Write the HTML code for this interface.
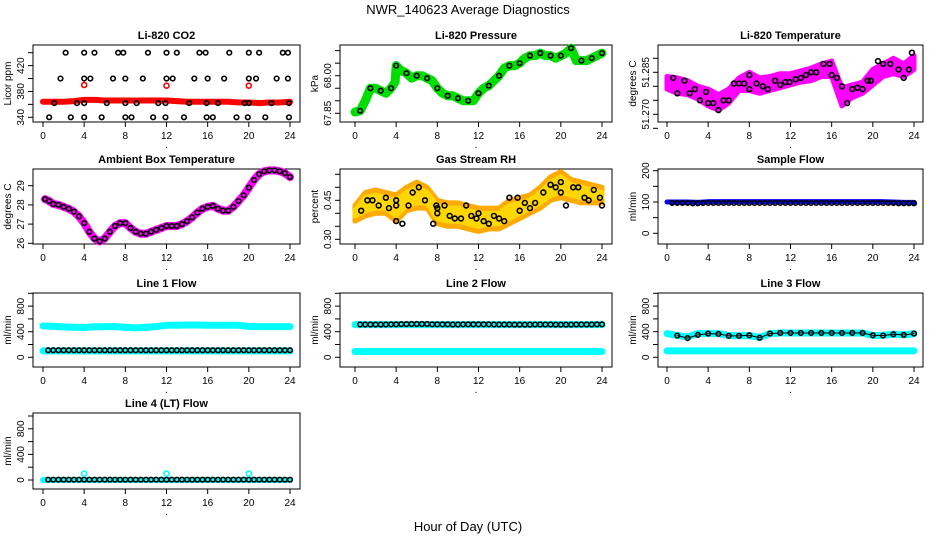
<!DOCTYPE html>
<html><head><meta charset="utf-8"><style>
body{margin:0;background:#fff}
svg{display:block;font-family:"Liberation Sans",sans-serif}
</style></head><body>
<svg id="c" width="936" height="540" viewBox="0 0 936 540">
<text x="468" y="14" text-anchor="middle" font-size="13">NWR_140623  Average Diagnostics</text>
<text x="468" y="531" text-anchor="middle" font-size="13">Hour of Day (UTC)</text>
</svg>
<script>
// ---- data ----
const xTicks=[0,4,8,12,16,20,24];
const hours=[0,1,2,3,4,5,6,7,8,9,10,11,12,13,14,15,16,17,18,19,20,21,22,23,24];
// CO2
const co2TopX=[2.2,4,5,7.3,7.8,10.2,12,13,15.2,15.8,18.1,20,21,23.3,23.8];
const co2HiX=[1.7,4,4.6,6.8,8,9.7,12,12.6,14.7,16,17.6,20,20.7,22.7,23.8];
const co2MidX=[1.1,3.3,4,6.2,8,9.1,11.2,11.9,14.2,15.9,17,19.6,20,22.2,23.9];
const co2LowX=[0.6,2.7,4,5.7,8,8.6,10.7,11.9,13.7,15.9,16.5,18.8,19.9,21.6,23.9];
const co2Levels=[440,400,362,340];
const co2RedX=[4,12,20];
const co2RedY=[390,389,389];
const co2Band=[364,364,364,365,367,367,366,366,366,366,366,366,366,365,364,364,364,364,364,363,363,362,363,363,364];
// Pressure
const presX=[0,0.5,1,1.5,2,2.5,3,3.5,3.9,4,4.5,5,5.5,6,6.5,7,7.5,8,8.5,9,9.5,10,10.5,11,11.5,12,12.5,13,13.5,14,14.5,15,15.5,16,16.5,17,17.5,18,18.5,19,19.5,20,20.5,21,21.5,22,22.5,23,23.5,24];
const presY=[67.855,67.86,67.90,67.95,67.95,67.94,67.93,67.95,67.975,68.04,68.02,68.01,67.99,68.00,68.00,67.99,67.98,67.95,67.93,67.92,67.92,67.91,67.90,67.90,67.90,67.93,67.95,67.96,67.98,68.00,68.03,68.04,68.04,68.05,68.07,68.08,68.08,68.09,68.08,68.08,68.07,68.08,68.09,68.11,68.06,68.06,68.06,68.07,68.08,68.09];
// Li-820 temperature
const tempX=[0.6,1,1.7,2.2,2.7,3.2,3.8,4,4.5,5,5.5,6,6.5,7,7.5,8,8,8.7,9.3,9.8,10.5,11,11.5,11.9,12.5,13,13.5,14,14.5,15.2,15.8,16,16.5,17,17.5,18,18.5,19,19.5,19.8,20.5,21,21.7,22.5,23,23.5,23.8];
const tempY=[51.2830,51.2775,51.2820,51.2775,51.2790,51.2750,51.2780,51.2740,51.2740,51.2715,51.2750,51.2750,51.2810,51.2810,51.2810,51.2840,51.2790,51.2810,51.2800,51.2790,51.2820,51.2805,51.2815,51.2815,51.2825,51.2830,51.2840,51.2850,51.2850,51.2880,51.2880,51.2840,51.2830,51.2800,51.2740,51.2790,51.2795,51.2790,51.2820,51.2820,51.2890,51.2880,51.2880,51.2860,51.2830,51.2860,51.2920];
const tempBandLo=[51.2790,51.2775,51.2770,51.2755,51.2730,51.2715,51.2740,51.2785,51.2785,51.2775,51.2785,51.2795,51.2805,51.2815,51.2820,51.2835,51.2835,51.2730,51.2760,51.2775,51.2805,51.2835,51.2845,51.2835,51.2860];
const tempBandHi=[51.2835,51.2830,51.2820,51.2800,51.2790,51.2770,51.2790,51.2830,51.2850,51.2830,51.2835,51.2845,51.2845,51.2855,51.2865,51.2880,51.2890,51.2795,51.2805,51.2815,51.2860,51.2880,51.2900,51.2880,51.2910];
// Ambient box temp
const ambX=[0.2,0.6,1,1.5,2,2.5,3,3.5,4,4.5,5,5.5,6,6.5,7,7.5,8,8.5,9,9.5,10,10.5,11,11.5,12,12.5,13,13.5,14,14.5,15,15.5,16,16.5,17,17.5,18,18.5,19,19.5,20,20.5,21,21.5,22,22.5,23,23.5,24];
const ambY=[28.3,28.2,28.05,28.0,27.9,27.8,27.65,27.4,27.05,26.6,26.25,26.1,26.25,26.6,26.9,27.05,27.05,26.8,26.6,26.5,26.5,26.6,26.7,26.8,26.9,26.9,26.9,27.0,27.15,27.35,27.6,27.8,27.9,27.95,27.8,27.7,27.7,27.9,28.2,28.5,28.9,29.3,29.6,29.75,29.8,29.8,29.75,29.65,29.45];
// Gas stream RH
const rhX=[0.6,1.2,1.7,2.3,3,3.3,4,4,4,4.6,5.2,5.6,6.2,6.8,7.6,7.9,8,8,8.7,9.2,9.7,10.3,10.8,11.3,11.8,12,12.5,13,13.5,14,14.5,15,15.8,16,16.5,17,17.5,18.3,19,19.5,20,20,20.5,21.2,21.7,22.3,22.7,23.2,23.8,24];
const rhY=[0.41,0.45,0.45,0.43,0.46,0.42,0.43,0.45,0.37,0.36,0.43,0.48,0.50,0.45,0.36,0.43,0.42,0.40,0.43,0.39,0.38,0.38,0.43,0.39,0.38,0.40,0.37,0.36,0.39,0.38,0.37,0.46,0.46,0.41,0.44,0.42,0.44,0.48,0.51,0.50,0.52,0.48,0.43,0.50,0.50,0.46,0.45,0.49,0.46,0.43];
const rhBandLo=[0.37,0.39,0.40,0.40,0.37,0.41,0.42,0.42,0.36,0.35,0.35,0.34,0.33,0.34,0.34,0.36,0.38,0.40,0.42,0.45,0.46,0.45,0.44,0.44,0.44];
const rhBandHi=[0.43,0.48,0.49,0.48,0.47,0.50,0.52,0.50,0.45,0.44,0.44,0.43,0.42,0.42,0.42,0.45,0.46,0.47,0.50,0.54,0.56,0.53,0.52,0.51,0.50];
// Sample flow
const sampleBlue=[100,100,100,99,101,101,101,101,101,101,101,101,101,101,101,101,101,101,101,101,101,101,100,99,99];
const sampleBlack=[97,97,97,96,97,97,97,97,97,97,97,97,97,97,97,97,97,97,97,97,97,97,97,96,96];
// Line flows
const l1Upper=[490,485,475,470,465,475,480,480,470,460,470,480,500,500,505,505,500,500,500,500,480,480,480,480,480];
const l1Lower=[100,100,100,100,100,100,100,100,100,100,100,100,100,100,100,100,100,100,100,100,100,100,100,100,100];
const l1Black=[110,110,110,110,110,110,110,110,110,110,110,110,110,110,110,110,110,110,110,110,110,110,110,110,110];
const l2Upper=[510,510,510,510,510,510,510,510,510,510,510,510,510,510,510,510,510,510,510,510,510,510,510,510,510];
const l2Lower=[90,90,90,90,90,90,90,90,90,90,90,90,90,90,90,90,90,90,90,90,90,90,90,90,90];
const l2Black=[510,512,512,512,515,518,520,520,515,515,512,515,515,515,512,512,510,510,512,512,510,510,512,512,515];
const l3Upper=[370,340,320,370,370,370,340,335,340,310,370,380,380,380,380,380,380,380,380,380,340,345,360,350,370];
const l3Lower=[100,100,100,100,100,100,100,100,100,100,100,100,100,100,100,100,100,100,100,100,100,100,100,100,100];
const l3Black=[365,340,300,350,370,365,335,335,345,305,370,380,380,380,380,380,380,380,380,380,345,340,360,350,370];
const l4Black=[5,5,5,5,5,5,5,5,5,5,5,5,5,5,5,5,5,5,5,5,5,5,5,5,5];
const l4SpikeX=[4,12,20];
const l4SpikeY=[100,100,100];

// ---- drawing ----
const NS='http://www.w3.org/2000/svg', svg=document.getElementById('c');
function el(t,a,p){const e=document.createElementNS(NS,t);for(const k in a)e.setAttribute(k,a[k]);(p||svg).appendChild(e);return e;}
const colX0=[43,355,667], colBox=[[33,300],[340,612],[658,923]];
const rowBox=[[45,122],[169,244],[293,367],[413,489]];
function panel(col,row,title,ylab,v1,p1,v2,p2,yt,ylabels,dec){
  const g=el('g',{});
  
  
  const [bl,br]=colBox[col],[bt,bb]=rowBox[row];
  const xs=v=>colX0[col]+v*247/24, ys=v=>p1+(v-v1)*(p2-p1)/(v2-v1);
  const t=el('text',{x:(bl+br)/2,y:bt-6,'text-anchor':'middle','font-size':11,'font-weight':'bold'},g);t.textContent=title;
  
  
  const r=el('rect',{x:bl,y:bt,width:br-bl,height:bb-bt,fill:'none',stroke:'#000','stroke-width':1},g);
  
  
  xTicks.forEach(v=>{const x=xs(v);el('line',{x1:x,x2:x,y1:bb,y2:bb+5,stroke:'#000'},g);
    const tx=el('text',{x:x,y:bb+17,'text-anchor':'middle','font-size':10},g);tx.textContent=v;
    
    });
  el('text',{x:(bl+br)/2,y:bb+26,'text-anchor':'middle','font-size':10},g).textContent='.';
  yt.forEach(v=>{const y=ys(v);el('line',{x1:bl-5,x2:bl,y1:y,y2:y,stroke:'#000'},g);});
  ylabels.forEach(v=>{const y=ys(v);const tx=el('text',{x:bl-9,y:y,'text-anchor':'middle','font-size':10,transform:`rotate(-90 ${bl-9} ${y})`},g);tx.textContent=dec!==undefined?v.toFixed(dec):v;
    
    });
  const yl=el('text',{x:bl-22,y:(bt+bb)/2,'text-anchor':'middle','font-size':10,transform:`rotate(-90 ${bl-22} ${(bt+bb)/2})`},g);yl.textContent=ylab;
  
  
  return {g,xs,ys};
}
function pts(P,X,Y,color,r,sw,name){X.forEach((x,i)=>{const c=el('circle',{cx:P.xs(x),cy:P.ys(Y[i]),r:r||2.3,fill:'none',stroke:color,'stroke-width':sw||1.5},P.g);
  
  });}
function line(P,X,Y,color,w,name){const l=el('polyline',{points:X.map((x,i)=>P.xs(x)+','+P.ys(Y[i])).join(' '),fill:'none',stroke:color,'stroke-width':w,'stroke-linejoin':'round','stroke-linecap':'round'},P.g);
  
  }
function band(P,X,lo,hi,color,name){const d=X.map((x,i)=>P.xs(x)+','+P.ys(hi[i])).concat(X.slice().reverse().map((x,j)=>P.xs(x)+','+P.ys(lo[X.length-1-j])));
  const b=el('polygon',{points:d.join(' '),fill:color,stroke:color,'stroke-width':5,'stroke-linejoin':'round'},P.g);
  
  }
function dense(P,X,Y,color,name){pts(P,X,Y,'#000',2.3,1.6,name);}

// CO2
let P=panel(0,0,'Li-820 CO2','Licor ppm',340,117.3,440,52.7,[340,360,380,400,420,440],[340,380,420]);
line(P,hours,co2Band,'#ff0000',6,'co2-red-band');
pts(P,co2RedX,co2RedY,'#ff0000',2.5,1.6,'co2-red-point');
[co2TopX,co2HiX,co2MidX,co2LowX].forEach((X,k)=>pts(P,X,X.map(()=>co2Levels[k]),'#000',2.3,1.6,'co2-point'));
// Pressure
P=panel(1,0,'Li-820 Pressure','kPa',67.85,113.3,68.00,75.7,[67.85,67.90,67.95,68.00,68.05,68.10],[67.85,68.00],2);
line(P,presX,presY,'#00dd00',9,'pressure-green-trace');
pts(P,presX.filter((_,i)=>i%2==1),presY.filter((_,i)=>i%2==1),'#000',2.3,1.6,'pressure-point');
// Temperature
P=panel(2,0,'Li-820 Temperature','degrees C',51.270,114.3,51.290,58.3,[51.265,51.270,51.275,51.280,51.285,51.290],[51.270,51.285],3);
band(P,hours,tempBandLo,tempBandHi,'#ff00ff','temperature-magenta-cloud');
pts(P,tempX,tempY,'#000',2.4,1.6,'temperature-point');
// Ambient
P=panel(0,1,'Ambient Box Temperature','degrees C',26,243.3,29,185.7,[26,27,28,29],[26,27,28,29]);
line(P,ambX,ambY,'#ff00ff',8,'ambient-magenta-trace');
pts(P,ambX,ambY,'#000',2.3,1.6,'ambient-point');
// RH
P=panel(1,1,'Gas Stream RH','percent',0.30,239.3,0.55,174.3,[0.30,0.35,0.40,0.45,0.50,0.55],[0.30,0.45],2);
band(P,hours,rhBandLo,rhBandHi,'#ffaa00','rh-orange-cloud');
band(P,hours,rhBandLo.map(v=>v+0.02),rhBandHi.map(v=>v-0.02),'#ffd700','rh-yellow-cloud');
pts(P,rhX,rhY,'#000',2.4,1.6,'rh-point');
// Sample flow
P=panel(2,1,'Sample Flow','ml/min',0,233.3,200,170.7,[0,50,100,150,200],[0,100,200]);
line(P,hours,sampleBlue,'#0000ff',5,'sample-blue-trace');
dense(P,hours.slice(1).map(h=>h-0.5).concat(hours.slice(1)),sampleBlack.slice(1).concat(sampleBlack.slice(1)),'#000','sample-point');
// Line flows
const fT=[0,200,400,600,800,1000], fL=[0,400,800];
P=panel(0,2,'Line 1 Flow','ml/min',0,357.3,1000,293.3,fT,fL);
line(P,hours,l1Upper,'#00ffff',7,'line1-upper-trace');
line(P,hours,l1Lower,'#00ffff',7,'line1-lower-trace');
dense(P,hours.slice(1).map(h=>h-0.5).concat(hours.slice(1)),l1Black.slice(1).concat(l1Black.slice(1)),'#000','line1-point');
P=panel(1,2,'Line 2 Flow','ml/min',0,357.3,1000,293.3,fT,fL);
line(P,hours,l2Upper,'#00ffff',7,'line2-upper-trace');
line(P,hours,l2Lower,'#00ffff',7,'line2-lower-trace');
dense(P,hours.slice(1).map(h=>h-0.5).concat(hours.slice(1)),l2Black.slice(1).concat(l2Black.slice(1)),'#000','line2-point');
P=panel(2,2,'Line 3 Flow','ml/min',0,357.3,1000,293.3,fT,fL);
line(P,hours,l3Upper,'#00ffff',7,'line3-upper-trace');
line(P,hours,l3Lower,'#00ffff',7,'line3-lower-trace');
line(P,hours.slice(1),l3Black.slice(1),'#000',1,'line3-black-trace');
dense(P,hours.slice(1),l3Black.slice(1),'#000','line3-point');
P=panel(0,3,'Line 4 (LT) Flow','ml/min',0,480,1000,416,fT,fL);
line(P,hours,l4Black.map(()=>0),'#00ffff',6,'line4-cyan-trace');
dense(P,hours.slice(1).map(h=>h-0.5).concat(hours.slice(1)),l4Black.slice(1).concat(l4Black.slice(1)),'#000','line4-point');
pts(P,l4SpikeX,l4SpikeY,'#00ffff',2.5,1.6,'line4-spike-point');
</script>
</body></html>
